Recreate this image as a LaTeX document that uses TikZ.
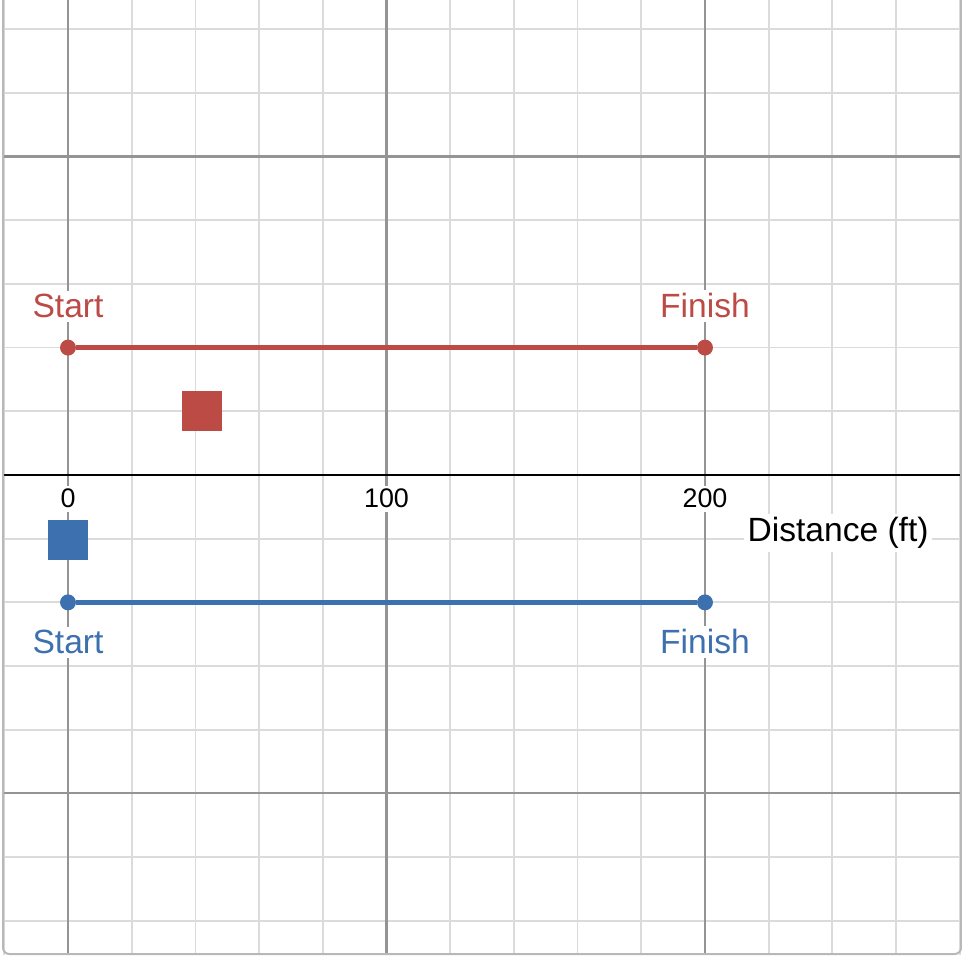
\documentclass[tikz,border=0pt]{standalone}
\usepackage{fontspec}
\setmainfont{Liberation Sans}
\definecolor{racered}{HTML}{BC4B45}
\definecolor{raceblue}{HTML}{3D70AF}

\begin{document}
\begin{tikzpicture}
\tikzset{minorline/.style = {draw = black!14, line width = 0.8pt},
         majorline/.style = {draw = black!42, line width = 0.9pt},
         dot/.style = {shape = circle, inner sep = 0pt, minimum size = 0.25cm},
         block/.style = {shape = rectangle, inner sep = 0pt, minimum size = 0.628cm},
         ticklabel/.style = {anchor = base, fill = white, inner sep = 1.5pt, font = \fontsize{12}{14}\selectfont},
         tracklabel/.style = {anchor = base, fill = white, inner sep = 1.5pt, font = \fontsize{15}{18}\selectfont}}
\useasboundingbox (-1.0675,-7.551) rectangle (14.035,7.457);

\begin{scope}
\clip (-1.02,-7.52) rectangle (14.02,7.46);
\foreach \x in {-1,...,14} \draw[minorline] (\x,-7.6) -- (\x,7.5);
\foreach \y in {-7,...,7} \draw[minorline] (-1.1,\y) -- (14.1,\y);
\foreach \x in {0,5,10} \draw[majorline] (\x,-7.6) -- (\x,7.5);
\foreach \y in {-5,5} \draw[majorline] (-1.1,\y) -- (14.1,\y);
\draw[line width = 1.3pt] (-1.1,0) -- (14.1,0);
\end{scope}
\draw[black!28, line width = 0.9pt, rounded corners = 0.1cm] (-1.02,7.6) -- (-1.02,-7.52) -- (14.02,-7.52) -- (14.02,7.6);

\node[ticklabel] (T0) at (0,-0.518) {0};
\node[ticklabel] (T100) at (5,-0.518) {100};
\node[ticklabel] (T200) at (10,-0.518) {200};
\node[tracklabel] (Dist) at (12.09,-1.047) {Distance (ft)};

\node[dot, fill = racered] (RS) at (0,2) {}; \node[dot, fill = racered] (RF) at (10,2) {};
\draw[racered, line width = 2pt] (RS) -- (RF);
\node[block, fill = racered] (RC) at (2.108,1) {};
\node[tracklabel, text = racered] (RSL) at (0,2.465) {Start};
\node[tracklabel, text = racered] (RFL) at (10,2.465) {Finish};

\node[dot, fill = raceblue] (BS) at (0,-2) {}; \node[dot, fill = raceblue] (BF) at (10,-2) {};
\draw[raceblue, line width = 2pt] (BS) -- (BF);
\node[block, fill = raceblue] (BC) at (0,-1.02) {};
\node[tracklabel, text = raceblue] (BSL) at (0,-2.81) {Start};
\node[tracklabel, text = raceblue] (BFL) at (10,-2.81) {Finish};
\end{tikzpicture}
\end{document}
